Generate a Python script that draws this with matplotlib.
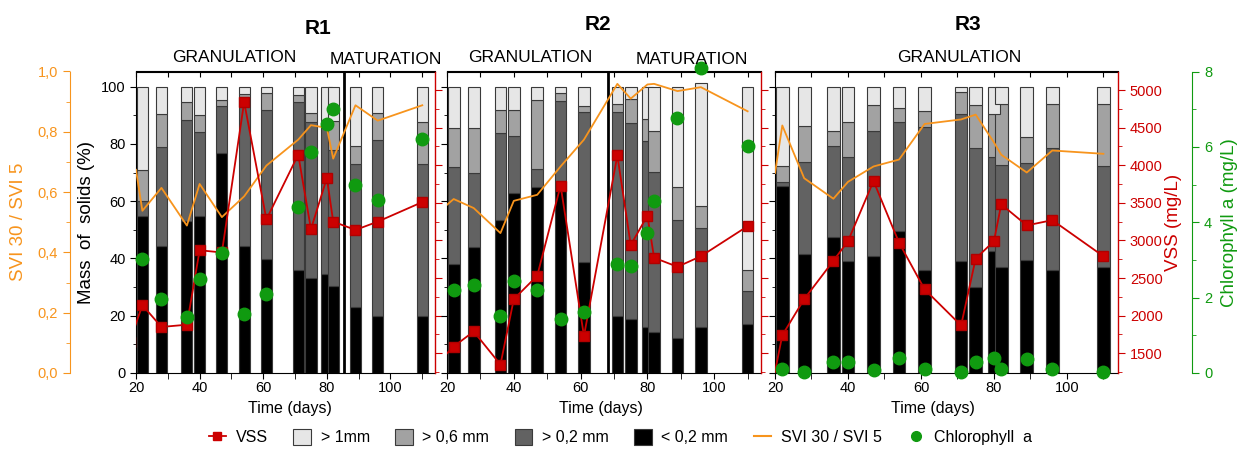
import matplotlib
matplotlib.use("Agg")
import matplotlib.pyplot as plt
from matplotlib.ticker import MultipleLocator, FuncFormatter
from matplotlib.patches import Patch
from matplotlib.lines import Line2D

plt.rcParams['font.family'] = ['Liberation Sans', 'DejaVu Sans']

# ---- data ----
days = [22, 28, 36, 40, 47, 54, 61, 71, 75, 80, 82, 89, 96, 110]
vss_days = [18] + days          # first VSS point lies left of the axis (clipped)
svi_days = [20] + days

# particle size fractions (% of solids), per reactor
r1_lt02 = [54.7, 44.5, 53.1, 54.7, 77.0, 44.5, 39.9, 35.8, 33.1, 34.6, 30.5, 23.0, 20.0, 20.0]
r1_gt02 = [5.2, 34.3, 35.3, 29.6, 16.3, 52.0, 52.0, 59.0, 54.7, 52.8, 47.5, 49.9, 61.4, 53.0]
r1_gt06 = [11.0, 11.5, 6.4, 5.8, 2.0, 1.0, 5.8, 2.3, 3.1, 0.8, 9.9, 6.4, 9.3, 14.6]
r1_gt1 = [29.1, 9.7, 5.2, 9.9, 4.7, 2.5, 2.3, 2.9, 9.1, 11.8, 12.1, 20.7, 9.3, 12.4]

r2_lt02 = [38.1, 44.1, 53.6, 62.7, 64.8, 64.0, 38.9, 20.0, 19.0, 16.0, 14.2, 12.1, 16.1, 17.0]
r2_gt02 = [33.9, 25.9, 30.3, 20.0, 6.4, 31.0, 52.4, 71.1, 68.3, 65.1, 56.0, 41.2, 34.6, 11.5]
r2_gt06 = [13.6, 15.4, 8.0, 9.0, 24.2, 2.7, 2.1, 2.9, 8.4, 7.6, 14.4, 11.8, 7.8, 7.5]
r2_gt1 = [14.4, 14.6, 8.1, 8.3, 4.6, 2.3, 6.6, 6.0, 4.3, 11.3, 15.4, 34.9, 42.8, 64.0]

r3_lt02 = [65.4, 41.6, 47.6, 39.2, 40.7, 49.7, 36.0, 39.0, 29.9, 42.5, 37.0, 39.3, 36.0, 36.9]
r3_gt02 = [1.2, 32.2, 31.8, 36.1, 43.9, 37.8, 49.8, 51.5, 48.7, 32.8, 35.6, 34.0, 42.6, 35.5]
r3_gt06 = [5.7, 12.3, 5.0, 12.2, 9.0, 4.9, 5.6, 7.5, 15.1, 15.2, 21.5, 9.1, 15.3, 21.5]
r3_gt1 = [27.7, 13.9, 15.6, 12.5, 6.4, 7.6, 8.6, 2.0, 6.3, 9.5, 5.9, 17.6, 6.1, 6.1]

# VSS (mg/L)
r1_vss = [1650, 2140, 1850, 1880, 2870, 2840, 4840, 3280, 4140, 3150, 3830, 3250, 3140, 3250, 3510]
r2_vss = [1410, 1590, 1790, 1350, 2220, 2530, 3730, 1730, 4130, 2940, 3330, 2770, 2650, 2790, 3190]
r3_vss = [770, 1740, 2220, 2730, 2990, 3790, 2970, 2350, 1870, 2760, 2990, 3480, 3200, 3270, 2790]

# SVI30 / SVI5
r1_svi = [0.674, 0.538, 0.614, 0.489, 0.627, 0.517, 0.586, 0.688, 0.774, 0.822, 0.813, 0.711, 0.888, 0.837, 0.888]
r2_svi = [0.558, 0.577, 0.547, 0.464, 0.571, 0.591, 0.685, 0.774, 0.959, 0.910, 0.957, 0.959, 0.935, 0.948, 0.868]
r3_svi = [0.663, 0.821, 0.646, 0.578, 0.634, 0.685, 0.708, 0.826, 0.841, 0.857, 0.765, 0.724, 0.665, 0.738, 0.727]

# Chlorophyll a (mg/L)
r1_chl = [3.02, 1.97, 1.48, 2.5, 3.18, 1.56, 2.1, 4.4, 5.87, 6.62, 7.0, 4.98, 4.58, 6.21]
r2_chl = [2.21, 2.34, 1.5, 2.45, 2.19, 1.44, 1.61, 2.89, 2.85, 3.71, 4.56, 6.76, 8.08, 6.02]
r3_chl = [0.11, 0.02, 0.28, 0.28, 0.08, 0.41, 0.11, 0.02, 0.28, 0.41, 0.11, 0.37, 0.11, 0.02]

phase_split = {"R1": 85.3, "R2": 68.1, "R3": None}

# ---- style ----
C_LIGHT, C_MID, C_DARK, C_BLACK = "#e6e6e6", "#a2a2a2", "#626262", "#000000"
C_ORANGE, C_RED, C_GREEN = "#f7941d", "#cc0000", "#109a10"
EDGE = "#3a3a3a"
TICK_FS = 10.5
LAB_FS = 13.5

comma = FuncFormatter(lambda v, p: f"{v:.1f}".replace(".", ","))

fig = plt.figure(figsize=(12.41, 4.5), dpi=100)
W, H = 1241.0, 450.0
bottom, height = (H - 373) / H, (373 - 71.5) / H
panels = [
    ("R1", 136, 299, (r1_lt02, r1_gt02, r1_gt06, r1_gt1), r1_vss, r1_svi, r1_chl),
    ("R2", 447, 314, (r2_lt02, r2_gt02, r2_gt06, r2_gt1), r2_vss, r2_svi, r2_chl),
    ("R3", 775, 343, (r3_lt02, r3_gt02, r3_gt06, r3_gt1), r3_vss, r3_svi, r3_chl),
]

for i, (name, x0, w, fracs, vss, svi, chl) in enumerate(panels):
    ax = fig.add_axes([x0 / W, bottom, w / W, height])
    base = [0.0] * len(days)
    for vals, col in zip(fracs, [C_BLACK, C_DARK, C_MID, C_LIGHT]):
        ax.bar(days, vals, width=3.5, bottom=base, color=col, edgecolor=EDGE, linewidth=0.8, zorder=2)
        base = [b + v for b, v in zip(base, vals)]
    if phase_split[name]:
        ax.axvline(phase_split[name], color="black", lw=2.0, zorder=3)
    ax.set_xlim(20, 114)
    ax.set_ylim(0, 105.3)
    ax.xaxis.set_major_locator(MultipleLocator(20))
    ax.xaxis.set_minor_locator(MultipleLocator(10))
    ax.yaxis.set_minor_locator(MultipleLocator(10))
    ax.set_yticks([0, 20, 40, 60, 80, 100])
    ax.tick_params(axis="x", which="both", top=False, direction="out", length=4, labelsize=TICK_FS, pad=2)
    ax.tick_params(axis="y", which="major", length=4, labelsize=TICK_FS)
    ax.tick_params(axis="y", which="minor", length=2.5)
    ax.spines["right"].set_visible(False)
    # inward ticks along the top frame
    top = ax.secondary_xaxis("top")
    top.xaxis.set_major_locator(MultipleLocator(10))
    top.tick_params(direction="in", length=4, labeltop=False)
    if i > 0:
        ax.tick_params(axis="y", labelleft=False)
    else:
        ax.set_ylabel("Mass  of  solids (%)", fontsize=LAB_FS, labelpad=4)
    fig.text([290, 601, 933][i] / W, 1 - 408 / H, "Time (days)", ha="center", va="center", fontsize=11.5)

    # SVI axis
    ax_s = ax.twinx()
    ax_s.plot(svi_days, svi, color=C_ORANGE, lw=1.3, zorder=4)
    ax_s.set_ylim(0, 1)
    for sp in ax_s.spines.values():
        sp.set_visible(False)
    ax_s.tick_params(right=False, labelright=False)
    if i == 0:
        ax_s.spines["left"].set_visible(True)
        ax_s.spines["left"].set_position(("outward", 47.5))
        ax_s.spines["left"].set_color(C_ORANGE)
        ax_s.yaxis.set_ticks_position("left")
        ax_s.yaxis.set_label_position("left")
        ax_s.yaxis.set_major_locator(MultipleLocator(0.2))
        ax_s.yaxis.set_minor_locator(MultipleLocator(0.1))
        ax_s.yaxis.set_major_formatter(comma)
        ax_s.tick_params(axis="y", which="both", colors=C_ORANGE, labelsize=TICK_FS, left=True, labelleft=True)
        ax_s.tick_params(axis="y", which="major", length=5)
        ax_s.tick_params(axis="y", which="minor", length=3)
        ax_s.set_ylabel("SVI 30 / SVI 5", color=C_ORANGE, fontsize=LAB_FS, labelpad=8)

    # VSS axis
    ax_v = ax.twinx()
    ax_v.plot(vss_days, vss, color=C_RED, lw=1.3, marker="s", ms=6.5, mfc=C_RED, mec="#b00000", zorder=5)
    ax_v.set_ylim(1238, 5246)
    for sp in ["top", "left", "bottom"]:
        ax_v.spines[sp].set_visible(False)
    ax_v.spines["right"].set_color(C_RED)
    ax_v.spines["right"].set_linewidth(1.0)
    ax_v.yaxis.set_major_locator(MultipleLocator(500))
    ax_v.yaxis.set_minor_locator(MultipleLocator(250))
    ax_v.tick_params(axis="y", which="both", colors=C_RED, labelsize=TICK_FS)
    ax_v.tick_params(axis="y", which="major", length=5)
    ax_v.tick_params(axis="y", which="minor", length=3)
    if i < 2:
        ax_v.tick_params(axis="y", labelright=False)
    else:
        ax_v.set_ylabel("VSS (mg/L)", color=C_RED, fontsize=LAB_FS, labelpad=2)

    # Chlorophyll axis
    ax_c = ax.twinx()
    ax_c.plot(days, chl, ls="none", marker="o", ms=9, color=C_GREEN, zorder=6, clip_on=False)
    ax_c.set_ylim(0, 8)
    for sp in ax_c.spines.values():
        sp.set_visible(False)
    if i < 2:
        ax_c.tick_params(right=False, labelright=False)
    else:
        ax_c.spines["right"].set_visible(True)
        ax_c.spines["right"].set_position(("outward", 53.5))
        ax_c.spines["right"].set_color(C_GREEN)
        ax_c.yaxis.set_major_locator(MultipleLocator(2))
        ax_c.yaxis.set_minor_locator(MultipleLocator(1))
        ax_c.tick_params(axis="y", which="both", colors=C_GREEN, labelsize=TICK_FS)
        ax_c.tick_params(axis="y", which="major", length=5)
        ax_c.tick_params(axis="y", which="minor", length=3)
        ax_c.set_ylabel("Chlorophyll a (mg/L)", color=C_GREEN, fontsize=LAB_FS, labelpad=6)

# titles and phase labels
for x, y, s in [(318, 28, "R1"), (598, 25, "R2"), (968, 24, "R3")]:
    fig.text(x / W, 1 - y / H, s, ha="center", va="center", fontsize=15, fontweight="bold")
for x, y, s in [(234, 58, "GRANULATION"), (386, 60, "MATURATION"), (530, 58, "GRANULATION"),
                (692, 60, "MATURATION"), (959, 58, "GRANULATION")]:
    fig.text(x / W, 1 - y / H, s, ha="center", va="center", fontsize=12.5)

handles = [
    Line2D([], [], color=C_RED, lw=1.3, marker="s", ms=6, label="VSS"),
    Patch(fc=C_LIGHT, ec=EDGE, lw=0.8, label="> 1mm"),
    Patch(fc=C_MID, ec=EDGE, lw=0.8, label="> 0,6 mm"),
    Patch(fc=C_DARK, ec=EDGE, lw=0.8, label="> 0,2 mm"),
    Patch(fc=C_BLACK, ec=EDGE, lw=0.8, label="< 0,2 mm"),
    Line2D([], [], color=C_ORANGE, lw=1.5, label="SVI 30 / SVI 5"),
    Line2D([], [], color=C_GREEN, ls="none", marker="o", ms=7, label="Chlorophyll  a"),
]
fig.legend(handles=handles, ncol=7, loc="center", bbox_to_anchor=(0.5, 1 - 437 / H), frameon=False,
           fontsize=11.5, handlelength=1.1, handleheight=1.2, handletextpad=0.6, columnspacing=1.6)

fig.savefig("out.png", dpi=100)
